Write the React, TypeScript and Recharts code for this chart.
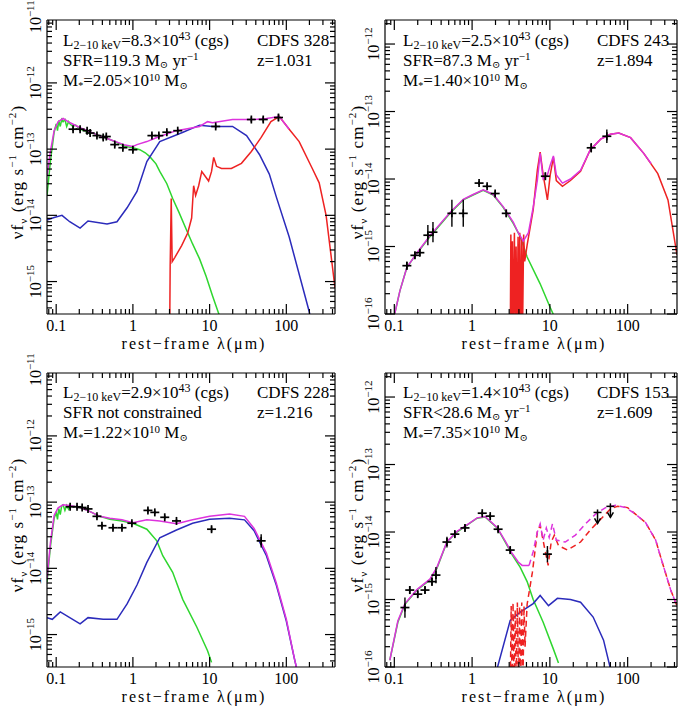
import React from 'react';
import { ComposedChart, Line, Scatter, XAxis, YAxis, ErrorBar } from 'recharts';

const FONT = '"Liberation Serif", "DejaVu Serif", serif';

// ---------- axes ----------
const X_DOMAIN: [number, number] = [0.0759, 431];
const X_MAJOR = [0.1, 1, 10, 100];
const X_MAJOR_LABELS = ['0.1', '1', '10', '100'];
const MINOR_MULT = [2, 3, 4, 5, 6, 7, 8, 9];
const Y_DOMAIN_A: [number, number] = [Math.pow(10, -15.49), Math.pow(10, -11.05)];
const Y_DOMAIN_B: [number, number] = [1e-16, Math.pow(10, -11.644)];
const Y_EXPS_A = [-15, -14, -13, -12, -11];
const Y_EXPS_B = [-16, -15, -14, -13, -12];

// ---------- colours ----------
const GREEN = '#2fd62f';
const BLUE = '#2b2bbb';
const RED = '#ee2222';
const MAGENTA = '#dd33dd';

type Pt = [number, number];
type Obs = [number, number, number];

// ---------- CDFS 328 ----------
const p1Green: Pt[] = [
  [0.076, 2.0e-14], [0.084, 6.5e-14], [0.094, 1.8e-13], [0.1, 2.4e-13], [0.104, 1.9e-13], [0.108, 2.7e-13],
  [0.113, 2.2e-13], [0.118, 2.8e-13], [0.123, 2.6e-13], [0.13, 2.8e-13], [0.137, 2.2e-13], [0.145, 2.6e-13],
  [0.152, 2.4e-13], [0.165, 2.2e-13], [0.18, 2.3e-13], [0.205, 2.0e-13], [0.25, 1.85e-13], [0.32, 1.7e-13],
  [0.4, 1.55e-13], [0.5, 1.4e-13], [0.63, 1.25e-13], [0.79, 1.1e-13], [1.0, 1.05e-13], [1.23, 9.8e-14],
  [1.45, 8.8e-14], [1.66, 7.7e-14], [2.0, 6.0e-14], [2.24, 4.6e-14], [2.77, 3.0e-14], [3.3, 1.8e-14],
  [4.0, 1.1e-14], [5.0, 6.0e-15], [6.0, 3.7e-15], [7.4, 2.2e-15], [9.0, 1.2e-15], [10.9, 6.1e-16], [13.5, 3.0e-16],
];
const p1Blue: Pt[] = [
  [0.076, 8.5e-15], [0.094, 9.3e-15], [0.119, 1.0e-14], [0.15, 8.0e-15], [0.205, 6.4e-15], [0.26, 8.2e-15],
  [0.46, 7.4e-15], [0.62, 8.0e-15], [0.84, 1.3e-14], [1.13, 2.3e-14], [1.52, 6.5e-14], [2.24, 1.3e-13],
  [4.5, 1.8e-13], [7.4, 2.3e-13], [10.9, 2.2e-13], [19.9, 2.2e-13], [30.3, 1.6e-13], [44.6, 8.3e-14],
  [60, 4.2e-14], [74, 1.9e-14], [109, 4.7e-15], [199, 3.5e-16], [230, 1.5e-16],
];
const p1Red: Pt[] = [
  [3.02, 2.0e-16], [3.06, 1.7e-15], [3.16, 1.8e-14], [3.25, 2.0e-15], [3.51, 2.3e-15], [4.32, 3.5e-15],
  [5.18, 5.4e-15], [5.83, 9.1e-15], [6.19, 2.8e-14], [6.57, 2.0e-14], [7.2, 2.8e-14], [7.9, 4.6e-14],
  [8.9, 3.8e-14], [9.7, 3.3e-14], [10.6, 4.6e-14], [11.3, 7.5e-14], [12.3, 5.5e-14], [14.3, 5.1e-14],
  [19.2, 5.1e-14], [26, 6.1e-14], [35, 9.2e-14], [47, 1.5e-13], [63, 2.6e-13], [81, 3.1e-13],
  [109, 2.0e-13], [147, 1.3e-13], [218, 5.1e-14], [268, 3.1e-14], [330, 1.0e-14], [396, 1.8e-15], [431, 8e-16],
];
const p1Magenta: Pt[] = [
  [0.076, 3.9e-14], [0.084, 9.2e-14], [0.094, 1.9e-13], [0.106, 2.6e-13], [0.123, 2.9e-13], [0.152, 2.5e-13],
  [0.205, 2.1e-13], [0.32, 1.7e-13], [0.5, 1.4e-13], [0.79, 1.15e-13], [1.0, 1.1e-13], [1.13, 1.17e-13],
  [1.52, 1.3e-13], [2.05, 1.5e-13], [3.7, 1.9e-13], [7.4, 2.2e-13], [9.4, 2.6e-13], [10.9, 2.5e-13],
  [19.9, 2.8e-13], [36, 2.8e-13], [55, 2.9e-13], [81, 3.1e-13], [109, 2.0e-13],
];
const p1Obs: Obs[] = [
  [0.166, 2.0e-13, 0.03], [0.205, 2.0e-13, 0.03], [0.253, 1.9e-13, 0.03], [0.277, 1.75e-13, 0.03],
  [0.34, 1.6e-13, 0.03], [0.41, 1.5e-13, 0.04], [0.45, 1.55e-13, 0.03], [0.58, 1.17e-13, 0.03],
  [0.74, 1.05e-13, 0.03], [1.0, 9.8e-14, 0.03], [1.77, 1.6e-13, 0.03], [2.18, 1.6e-13, 0.03],
  [2.77, 1.8e-13, 0.03], [3.84, 1.9e-13, 0.03], [12.0, 2.2e-13, 0.03], [35, 2.8e-13, 0.04],
  [50, 2.8e-13, 0.04], [79, 3.0e-13, 0.05],
];

// ---------- CDFS 243 ----------
const p2Green: Pt[] = [
  [0.101, 1.0e-16], [0.118, 2.2e-16], [0.145, 4.9e-16], [0.195, 7.9e-16], [0.287, 1.4e-15], [0.52, 3.1e-15],
  [0.77, 4.9e-15], [1.03, 5.8e-15], [1.39, 6.8e-15], [1.87, 5.8e-15], [2.51, 3.8e-15], [3.38, 2.2e-15],
  [4.16, 1.4e-15], [5.1, 7.0e-16], [7.5, 2.8e-16], [10.1, 1.25e-16], [11.1, 9.8e-17],
];
const p2Red: Pt[] = [
  [3.1, 5e-17], [3.15, 1.5e-15], [3.2, 5e-17], [3.3, 1.2e-15], [3.38, 5e-17], [3.5, 1.6e-15], [3.58, 5e-17],
  [3.68, 1.0e-15], [3.78, 5e-17], [3.9, 1.4e-15], [4.0, 5e-17], [4.1, 1.6e-15], [4.2, 5e-17], [4.35, 1.3e-15],
  [4.45, 5e-17], [4.6, 1.5e-15], [4.75, 6e-16], [5.1, 1.05e-15], [6.1, 3.5e-15], [6.9, 1.35e-14],
  [7.5, 2.5e-14], [8.2, 1.15e-14], [9.3, 4.9e-15], [10.1, 1.15e-14], [11.1, 2.1e-14], [12.1, 9.5e-15],
  [14.5, 7.8e-15], [18.4, 9.5e-15], [24.8, 1.3e-14], [33, 2.7e-14], [45, 3.9e-14], [60, 4.6e-14],
  [77, 4.8e-14], [109, 4.1e-14], [161, 2.4e-14], [244, 1.2e-14], [330, 4.9e-15], [431, 7.5e-16],
];
const p2Magenta: Pt[] = [
  [0.101, 1.0e-16], [0.118, 2.2e-16], [0.145, 4.9e-16], [0.195, 8.0e-16], [0.287, 1.45e-15], [0.52, 3.2e-15],
  [0.77, 5.0e-15], [1.03, 5.9e-15], [1.39, 6.9e-15], [1.87, 5.9e-15], [2.51, 3.9e-15], [3.38, 2.3e-15],
  [3.92, 1.6e-15], [4.55, 1.2e-15], [5.3, 1.6e-15], [6.1, 3.8e-15], [6.9, 9.5e-15], [7.5, 2.4e-14],
  [8.2, 1.0e-14], [9.3, 1.15e-14], [10.1, 1.6e-14], [11.1, 2.2e-14], [12.1, 1.15e-14], [14.5, 8.7e-15],
  [18.4, 1.0e-14], [24.8, 1.35e-14], [33, 2.7e-14], [45, 3.9e-14], [60, 4.6e-14], [77, 4.8e-14],
  [109, 4.1e-14], [161, 2.4e-14], [200, 1.7e-14],
];
const p2Obs: Obs[] = [
  [0.145, 5.2e-16, 0.06], [0.184, 7.4e-16, 0.05], [0.213, 8.1e-16, 0.05], [0.27, 1.47e-15, 0.15],
  [0.314, 1.63e-15, 0.15], [0.55, 3.1e-15, 0.2], [0.77, 3.1e-15, 0.2], [1.23, 8.7e-15, 0.03],
  [1.56, 7.8e-15, 0.03], [1.98, 6.1e-15, 0.04], [2.75, 3.1e-15, 0.05], [8.75, 1.1e-14, 0.05],
  [34, 2.9e-14, 0.07], [54, 4.3e-14, 0.1],
];

// ---------- CDFS 228 ----------
const p3Green: Pt[] = [
  [0.076, 6.2e-15], [0.084, 2.1e-14], [0.094, 5.7e-14], [0.1, 7.0e-14], [0.104, 5.5e-14], [0.108, 8.0e-14],
  [0.113, 6.5e-14], [0.118, 8.8e-14], [0.123, 9.1e-14], [0.13, 7.5e-14], [0.137, 8.9e-14], [0.145, 7.8e-14],
  [0.152, 8.9e-14], [0.18, 8.5e-14], [0.205, 8.3e-14], [0.277, 7.2e-14], [0.37, 6.1e-14], [0.5, 5.5e-14],
  [0.72, 5.2e-14], [1.0, 4.8e-14], [1.52, 3.9e-14], [2.05, 2.6e-14], [2.45, 1.55e-14], [3.3, 8.7e-15],
  [4.46, 3.4e-15], [6.8, 1.3e-15], [9.4, 5.7e-16], [10.6, 3.8e-16],
];
const p3Blue: Pt[] = [
  [0.076, 1.8e-15], [0.089, 1.7e-15], [0.113, 2.2e-15], [0.205, 1.45e-15], [0.26, 1.8e-15], [0.41, 1.7e-15],
  [0.62, 1.7e-15], [0.84, 2.9e-15], [1.13, 5.6e-15], [1.52, 1.23e-14], [2.24, 2.9e-14], [3.7, 3.8e-14],
  [6.0, 4.8e-14], [10.0, 5.5e-14], [18.2, 5.7e-14], [28.5, 5.4e-14], [38, 3.7e-14], [55, 1.55e-14],
  [74, 5.6e-15], [100, 1.6e-15], [127, 4.4e-16], [139, 2.8e-16],
];
const p3Magenta: Pt[] = [
  [0.076, 6.9e-15], [0.084, 2.4e-14], [0.094, 6.3e-14], [0.106, 8.2e-14], [0.123, 9.1e-14], [0.152, 8.9e-14],
  [0.205, 8.3e-14], [0.277, 7.2e-14], [0.37, 6.1e-14], [0.5, 5.7e-14], [0.72, 5.4e-14], [1.0, 4.9e-14],
  [1.52, 5.4e-14], [2.24, 5.2e-14], [3.7, 4.7e-14], [6.0, 5.4e-14], [10.0, 6.1e-14], [18.2, 6.6e-14],
  [28.5, 6.1e-14], [38, 4.0e-14], [55, 1.7e-14], [74, 6.0e-15], [100, 1.7e-15], [127, 4.4e-16], [139, 2.8e-16],
];
const p3Obs: Obs[] = [
  [0.152, 8.5e-14, 0.03], [0.187, 8.5e-14, 0.03], [0.218, 8.3e-14, 0.03], [0.26, 7.9e-14, 0.03],
  [0.34, 6.1e-14, 0.03], [0.395, 4.4e-14, 0.03], [0.55, 4.1e-14, 0.03], [0.72, 4.1e-14, 0.03],
  [0.97, 4.8e-14, 0.03], [1.57, 7.5e-14, 0.03], [1.93, 7.0e-14, 0.03], [2.6, 5.9e-14, 0.03],
  [3.7, 5.2e-14, 0.03], [10.6, 3.9e-14, 0.04], [47, 2.6e-14, 0.1],
];

// ---------- CDFS 153 ----------
const p4Green: Pt[] = [
  [0.0875, 1.26e-16], [0.111, 4.6e-16], [0.137, 8.5e-16], [0.195, 1.38e-15], [0.287, 1.95e-15], [0.353, 2.9e-15],
  [0.475, 7.1e-15], [0.64, 1.0e-14], [0.86, 1.26e-14], [1.16, 1.6e-14], [1.47, 1.67e-14], [2.1, 1.15e-14],
  [2.67, 7.1e-15], [3.28, 4.6e-15], [4.16, 3.0e-15], [5.1, 1.84e-15], [6.1, 1.0e-15], [8.2, 4.6e-16],
  [11.1, 1.84e-16], [12.9, 1.15e-16],
];
const p4Blue: Pt[] = [
  [2.1, 9.5e-17], [3.09, 4.9e-16], [4.16, 6.5e-16], [6.1, 8.7e-16], [7.5, 1.15e-15], [9.6, 8.1e-16],
  [12.5, 1.04e-15], [18.4, 1.0e-15], [24.8, 9.1e-16], [36, 5.5e-16], [49, 2.5e-16], [60, 9.5e-17],
];
const p4Magenta: Pt[] = [
  [0.0875, 1.26e-16], [0.111, 4.8e-16], [0.137, 8.7e-16], [0.195, 1.4e-15], [0.287, 2.0e-15], [0.353, 3.0e-15],
  [0.475, 7.2e-15], [0.64, 1.02e-14], [0.86, 1.28e-14], [1.16, 1.62e-14], [1.47, 1.7e-14], [2.1, 1.17e-14],
  [2.67, 7.3e-15], [3.28, 4.8e-15], [3.92, 3.6e-15], [4.4, 3.2e-15], [5.4, 3.2e-15],
];
const p4MagentaLimit: Pt[] = [
  [5.4, 3.2e-15], [6.1, 5.1e-15], [6.9, 1.0e-14], [7.5, 1.32e-14], [8.2, 7.6e-15], [9.0, 1.15e-14],
  [9.8, 8.3e-15], [10.8, 1.32e-14], [12.1, 7.6e-15], [15.8, 7.1e-15], [21.3, 9.0e-15], [28.7, 1.32e-14],
  [38.6, 1.84e-14], [52, 2.3e-14], [70, 2.5e-14], [94, 2.3e-14], [126, 1.84e-14], [170, 1.38e-14],
  [229, 7.6e-15], [265, 4.3e-15], [358, 1.38e-15], [431, 8e-16],
];
const p4RedLimit: Pt[] = [
  [3.1, 5e-17], [3.18, 8e-16], [3.26, 5e-17], [3.36, 9e-16], [3.46, 5e-17], [3.58, 7e-16], [3.7, 5e-17],
  [3.82, 9e-16], [3.95, 5e-17], [4.08, 8e-16], [4.2, 5e-17], [4.35, 9e-16], [4.5, 5e-17], [4.65, 8e-16],
  [4.8, 2e-16], [5.1, 8.5e-16], [5.95, 2.5e-15], [6.9, 1.0e-14], [7.5, 1.26e-14], [8.5, 6.0e-15],
  [9.5, 3.2e-15], [10.4, 7.1e-15], [11.4, 9.0e-15], [12.9, 6.3e-15], [16.8, 5.4e-15], [24.8, 7.1e-15],
  [33, 1.07e-14], [45, 1.55e-14], [60, 2.2e-14], [74, 2.4e-14], [100, 2.3e-14], [126, 1.84e-14],
  [170, 1.38e-14], [229, 7.6e-15], [265, 4.3e-15], [358, 1.38e-15], [431, 8e-16],
];
const p4Obs: Obs[] = [
  [0.137, 7.6e-16, 0.15], [0.158, 1.38e-15, 0.06], [0.2, 1.2e-15, 0.05], [0.248, 1.38e-15, 0.05],
  [0.305, 1.84e-15, 0.06], [0.343, 2.3e-15, 0.12], [0.475, 7.1e-15, 0.08], [0.6, 9.3e-15, 0.05],
  [0.81, 1.15e-14, 0.05], [1.35, 1.9e-14, 0.03], [1.71, 1.72e-14, 0.03], [2.16, 1.1e-14, 0.04],
  [3.09, 5.4e-15, 0.05], [9.3, 4.7e-15, 0.12],
];
const p4Upper: Obs[] = [[41, 1.95e-14, 0], [60, 2.4e-14, 0]];

// ---------- labels ----------
const NAMES = ['CDFS 328', 'CDFS 243', 'CDFS 228', 'CDFS 153'];
const REDSHIFTS = ['z=1.031', 'z=1.894', 'z=1.216', 'z=1.609'];
const LX = ['8.3', '2.5', '2.9', '1.4'];
const SFR = ['SFR=119.3', 'SFR=87.3', 'SFR not constrained', 'SFR<28.6'];
const MSTAR = ['2.05', '1.40', '1.22', '7.35'];

// ---------- helpers ----------
const toXY = (a: Pt[]) => a.map(([x, y]) => ({ x, y }));
const toObs = (a: Obs[]) =>
  a.map(([x, y, d]) => ({ x, y, err: [y - y * Math.pow(10, -d), y * Math.pow(10, d) - y] }));

function logTicks(min: number, max: number) {
  const out: number[] = [];
  for (let e = Math.floor(Math.log10(min)) - 1; e <= Math.ceil(Math.log10(max)); e++) {
    for (const m of [1, ...MINOR_MULT]) {
      const v = m * Math.pow(10, e);
      if (v >= min * 0.999 && v <= max * 1.001) out.push(v);
    }
  }
  return out;
}
const isMajor = (v: number) => Math.abs(Math.log10(v) - Math.round(Math.log10(v))) < 1e-6;

const Cross = (p: any) => {
  const { cx, cy } = p;
  if (cx == null || cy == null || isNaN(cx) || isNaN(cy)) return null;
  return (
    <g stroke="#000" strokeWidth={1.7}>
      <line x1={cx - 4.5} x2={cx + 4.5} y1={cy} y2={cy} />
      <line x1={cx} x2={cx} y1={cy - 4} y2={cy + 4} />
    </g>
  );
};
const LimitMark = (p: any) => {
  const { cx, cy } = p;
  if (cx == null || cy == null) return null;
  return (
    <g stroke="#000" strokeWidth={1.5} fill="none">
      <line x1={cx - 4} x2={cx + 4} y1={cy} y2={cy} />
      <line x1={cx} x2={cx} y1={cy - 3} y2={cy + 11} />
      <polyline points={`${cx - 3},${cy + 6} ${cx},${cy + 11} ${cx + 3},${cy + 6}`} />
    </g>
  );
};

type LineSpec = { data: Pt[]; color: string; dashed?: boolean };

function Panel(props: {
  left: number; top: number; width: number; height: number; mLeft: number; yRightW: number;
  yDomain: [number, number]; yExps: number[]; lines: LineSpec[]; obs: Obs[]; upper?: Obs[];
}) {
  const { left, top, width, height, mLeft, yRightW, yDomain, yExps, lines, obs, upper } = props;
  const xTicks = logTicks(X_DOMAIN[0], X_DOMAIN[1]);
  const yTicks = logTicks(yDomain[0], yDomain[1]);
  const yLabelTicks = yExps.map((e) => Math.pow(10, e));
  const allY = Array.from(new Set([...yTicks, ...yLabelTicks.filter((v) => v > yDomain[1])])).sort((a, b) => a - b);

  const BottomTick = (p: any) => {
    const v = p.payload.value;
    const idx = X_MAJOR.findIndex((m) => Math.abs(m - v) / m < 1e-6);
    const len = isMajor(v) ? 10 : 5;
    return (
      <g>
        <line x1={p.x} x2={p.x} y1={p.y} y2={p.y - len} stroke="#000" strokeWidth={1.2} />
        {idx >= 0 && (
          <text x={p.x} y={p.y + 17} textAnchor="middle" fontSize={16} fontFamily={FONT} fill="#000">
            {X_MAJOR_LABELS[idx]}
          </text>
        )}
      </g>
    );
  };
  const TopTick = (p: any) => {
    const len = isMajor(p.payload.value) ? 10 : 5;
    return <line x1={p.x} x2={p.x} y1={p.y} y2={p.y + len} stroke="#000" strokeWidth={1.2} />;
  };
  const LeftTick = (p: any) => {
    const v = p.payload.value;
    const major = isMajor(v);
    const inside = v <= yDomain[1] * 1.0001;
    const e = Math.round(Math.log10(v));
    const lx = p.x - 6;
    return (
      <g>
        {inside && <line x1={p.x} x2={p.x + (major ? 10 : 5)} y1={p.y} y2={p.y} stroke="#000" strokeWidth={1.2} />}
        {major && yExps.includes(e) && (
          <text x={lx} y={p.y} transform={`rotate(-90 ${lx} ${p.y})`} textAnchor="middle" fontSize={16} fontFamily={FONT} fill="#000">
            10<tspan fontSize={11} dy={-7}>{'\u2212' + Math.abs(e)}</tspan>
          </text>
        )}
      </g>
    );
  };
  const RightTick = (p: any) => {
    const len = isMajor(p.payload.value) ? 10 : 5;
    return <line x1={p.x} x2={p.x - len} y1={p.y} y2={p.y} stroke="#000" strokeWidth={1.2} />;
  };

  return (
    <div style={{ position: 'absolute', left, top }}>
      <ComposedChart width={width} height={height} margin={{ top: 15, right: 0, bottom: 11, left: mLeft }}>
        <XAxis xAxisId="b" type="number" dataKey="x" scale="log" domain={X_DOMAIN} allowDataOverflow
          ticks={xTicks} interval={0} tickSize={0} tickMargin={0} tick={BottomTick} height={30}
          axisLine={{ stroke: '#000', strokeWidth: 1.2 }} />
        <XAxis xAxisId="t" orientation="top" type="number" dataKey="x" scale="log" domain={X_DOMAIN} allowDataOverflow
          ticks={xTicks} interval={0} tickSize={0} tickMargin={0} tick={TopTick} height={5}
          axisLine={{ stroke: '#000', strokeWidth: 1.2 }} />
        <YAxis yAxisId="l" type="number" dataKey="y" scale="log" domain={yDomain} allowDataOverflow
          ticks={allY} interval={0} tickSize={0} tickMargin={0} tick={LeftTick} width={40}
          axisLine={{ stroke: '#000', strokeWidth: 1.2 }} />
        <YAxis yAxisId="r" orientation="right" type="number" dataKey="y" scale="log" domain={yDomain} allowDataOverflow
          ticks={yTicks} interval={0} tickSize={0} tickMargin={0} tick={RightTick} width={yRightW}
          axisLine={{ stroke: '#000', strokeWidth: 1.2 }} />
        {lines.map((l, i) => (
          <Line key={i} xAxisId="b" yAxisId="l" data={toXY(l.data)} dataKey="y" type="linear" stroke={l.color}
            strokeWidth={1.5} strokeDasharray={l.dashed ? '6 4' : undefined} dot={false} isAnimationActive={false} />
        ))}
        <Scatter xAxisId="b" yAxisId="l" data={toObs(obs)} dataKey="y" shape={Cross} isAnimationActive={false}>
          <ErrorBar dataKey="err" direction="y" width={0} stroke="#000" strokeWidth={1.4} isAnimationActive={false} />
        </Scatter>
        {upper && (
          <Scatter xAxisId="b" yAxisId="l" data={toObs(upper)} dataKey="y" shape={LimitMark} isAnimationActive={false} />
        )}
      </ComposedChart>
    </div>
  );
}

const SUB = 10;
const SUP = 11;

function InfoText({ x0, zx, base, i }: { x0: number; zx: number; base: number; i: number }) {
  const common = { fontFamily: FONT, fontSize: 17, fill: '#000' };
  return (
    <g>
      <text x={x0} y={base} {...common}>
        L<tspan fontSize={12} dy={3}>2{'\u2212'}10 keV</tspan>
        <tspan dy={-3}>={LX[i]}×10</tspan>
        <tspan fontSize={12} dy={-6}>43</tspan>
        <tspan dy={6}> (cgs)</tspan>
      </text>
      <text x={zx} y={base} {...common}>{NAMES[i]}</text>
      <text x={x0} y={base + 20} {...common}>
        {SFR[i]}
        {i !== 2 && (
          <>
            <tspan> M</tspan>
            <tspan fontSize={SUB} dy={2}>⊙</tspan>
            <tspan dy={-2}> yr</tspan>
            <tspan fontSize={SUP} dy={-6}>{'\u2212'}1</tspan>
          </>
        )}
      </text>
      <text x={zx} y={base + 20} {...common}>{REDSHIFTS[i]}</text>
      <text x={x0} y={base + 40} {...common}>
        M<tspan fontSize={SUB} dy={3}>*</tspan>
        <tspan dy={-3}>={MSTAR[i]}×10</tspan>
        <tspan fontSize={SUP} dy={-5}>10</tspan>
        <tspan dy={5}> M</tspan>
        <tspan fontSize={SUB} dy={3}>⊙</tspan>
      </text>
    </g>
  );
}

function YTitle({ x, y }: { x: number; y: number }) {
  return (
    <text x={x} y={y} transform={`rotate(-90 ${x} ${y})`} textAnchor="middle" fontFamily={FONT} fontSize={17}
      fill="#000" letterSpacing={1.1}>
      νf<tspan fontSize={SUP} dy={4}>ν</tspan>
      <tspan dy={-4}> (erg s</tspan>
      <tspan fontSize={SUP} dy={-7}>{'\u2212'}1</tspan>
      <tspan dy={7}> cm</tspan>
      <tspan fontSize={SUP} dy={-7}>{'\u2212'}2</tspan>
      <tspan dy={7}>)</tspan>
    </text>
  );
}

function XTitle({ x, y }: { x: number; y: number }) {
  return (
    <text x={x} y={y} textAnchor="middle" fontFamily={FONT} fontSize={16} fill="#000" letterSpacing={2}>
      rest{'\u2212'}frame λ(μm)
    </text>
  );
}

export default function App() {
  return (
    <div style={{ position: 'absolute', left: 0, top: 0, width: 679, height: 711, background: '#fff', overflow: 'hidden' }}>
      <Panel left={0} top={0} width={340} height={355} mLeft={7} yRightW={5} yDomain={Y_DOMAIN_A} yExps={Y_EXPS_A}
        lines={[{ data: p1Green, color: GREEN }, { data: p1Blue, color: BLUE }, { data: p1Red, color: RED }, { data: p1Magenta, color: MAGENTA }]}
        obs={p1Obs} />
      <Panel left={340} top={0} width={339} height={355} mLeft={5} yRightW={2} yDomain={Y_DOMAIN_B} yExps={Y_EXPS_B}
        lines={[{ data: p2Green, color: GREEN }, { data: p2Red, color: RED }, { data: p2Magenta, color: MAGENTA }]}
        obs={p2Obs} />
      <Panel left={0} top={353} width={340} height={355} mLeft={7} yRightW={5} yDomain={Y_DOMAIN_A} yExps={Y_EXPS_A}
        lines={[{ data: p3Green, color: GREEN }, { data: p3Blue, color: BLUE }, { data: p3Magenta, color: MAGENTA }]}
        obs={p3Obs} />
      <Panel left={340} top={353} width={339} height={355} mLeft={5} yRightW={2} yDomain={Y_DOMAIN_B} yExps={Y_EXPS_B}
        lines={[
          { data: p4Green, color: GREEN }, { data: p4Blue, color: BLUE },
          { data: p4RedLimit, color: RED, dashed: true }, { data: p4MagentaLimit, color: MAGENTA, dashed: true },
          { data: p4Magenta, color: MAGENTA },
        ]}
        obs={p4Obs} upper={p4Upper} />
      <svg width={679} height={711} style={{ position: 'absolute', left: 0, top: 0, pointerEvents: 'none' }}>
        <InfoText x0={63} zx={257} base={46} i={0} />
        <InfoText x0={403} zx={597} base={46} i={1} />
        <InfoText x0={63} zx={257} base={398} i={2} />
        <InfoText x0={403} zx={597} base={398} i={3} />
        <YTitle x={23} y={172} />
        <YTitle x={363} y={172} />
        <YTitle x={23} y={525} />
        <YTitle x={363} y={525} />
        <XTitle x={194} y={349} />
        <XTitle x={534} y={349} />
        <XTitle x={194} y={702} />
        <XTitle x={534} y={702} />
      </svg>
    </div>
  );
}
